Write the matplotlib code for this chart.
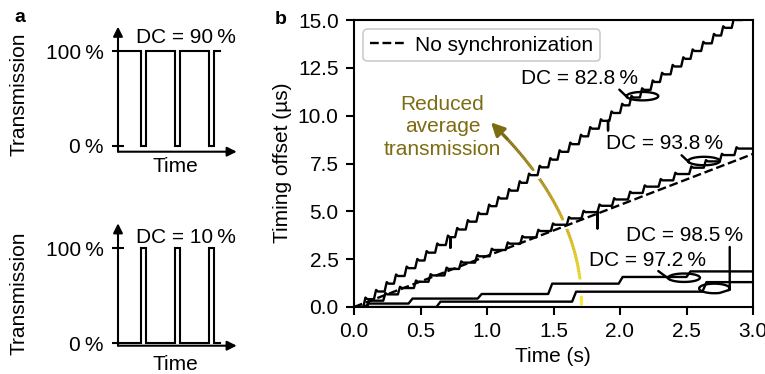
import numpy as np
import matplotlib
matplotlib.use('Agg')
import matplotlib.pyplot as plt
from matplotlib.collections import LineCollection
from matplotlib.colors import LinearSegmentedColormap

plt.rcParams['font.family'] = ['Liberation Sans', 'DejaVu Sans']
plt.rcParams['font.size'] = 15
plt.rcParams['axes.linewidth'] = 1.5

W, H = 765.0, 374.0
TS = '\u2009'

# ---------------- data ----------------
# panel a: pulse edges (fraction of time axis)
wave_start, wave_end = 0.059, 0.859
pulse_on = [0.191, 0.479, 0.766]
pulse_off = [0.233, 0.522, 0.808]
duty_labels = ['DC = 90' + TS + '%', 'DC = 10' + TS + '%']

# panel b
dash_t = [0.0, 3.0]
dash_y = [0.0, 8.0]

steps_828_t = [0.07, 0.15, 0.23, 0.30, 0.38, 0.46, 0.53, 0.61, 0.69, 0.76,
               0.84, 0.92, 1.00, 1.07, 1.15, 1.23, 1.30, 1.38, 1.46, 1.53,
               1.61, 1.69, 1.76, 1.84, 1.92, 2.00, 2.07, 2.15, 2.23, 2.30,
               2.38, 2.46, 2.53, 2.61, 2.69, 2.76, 2.84, 2.92]
steps_828_y = [0.41, 0.81, 1.22, 1.62, 2.03, 2.43, 2.84, 3.24, 3.65, 4.05,
               4.46, 4.86, 5.27, 5.67, 6.08, 6.49, 6.89, 7.30, 7.70, 8.11,
               8.51, 8.92, 9.32, 9.73, 10.14, 10.54, 10.95, 11.35, 11.76, 12.16,
               12.57, 12.97, 13.38, 13.78, 14.19, 14.59, 15.00, 15.40]
glitch_828_t = [0.725, 1.91]
glitch_828_d = [0.55, 0.50]

steps_938_t = [0.10, 0.22, 0.33, 0.45, 0.56, 0.68, 0.79, 0.91, 1.02, 1.14,
               1.25, 1.37, 1.48, 1.60, 1.71, 1.83, 1.94, 2.06, 2.17, 2.29,
               2.40, 2.52, 2.63, 2.75, 2.86]
steps_938_y = [0.33, 0.66, 0.99, 1.32, 1.65, 1.99, 2.32, 2.65, 2.98, 3.31,
               3.64, 3.97, 4.30, 4.63, 4.96, 5.29, 5.62, 5.96, 6.29, 6.62,
               6.95, 7.28, 7.61, 7.94, 8.28]
glitch_938_t = [1.83]
glitch_938_d = [0.85]

steps_972_t = [0.08, 0.41, 0.93, 1.46, 1.99, 2.50]
steps_972_y = [0.18, 0.44, 0.68, 1.22, 1.57, 1.86]

steps_985_t = [0.62, 1.64, 2.62]
steps_985_y = [0.28, 0.80, 1.30]

curve_labels = ['DC = 82.8' + TS + '%', 'DC = 93.8' + TS + '%',
                'DC = 97.2' + TS + '%', 'DC = 98.5' + TS + '%']

OLIVE = '#7d6c12'
LW = 1.7


def px(x, y):
    return x / W, 1 - y / H


def stair(ts, ys, t_end, rise, over=0.0, relax=0.015, glitch_t=(), glitch_d=()):
    """Staircase through the read step times/levels with a small overshoot
    after each rise that relaxes back quickly."""
    x, y = [0.0], [0.0]
    prev = 0.0
    for t, l in zip(ts, ys):
        h = l - prev
        x += [t, t + rise]
        y += [prev, l + over * h]
        if over:
            x.append(t + rise + relax)
            y.append(l)
        prev = l
    x.append(t_end)
    y.append(prev)
    for tg, d in zip(glitch_t, glitch_d):
        i = int(np.searchsorted(x, tg))
        lv = float(np.interp(tg, x, y))
        x[i:i] = [tg, tg, tg]
        y[i:i] = [lv, lv - d, lv]
    return x, y


fig = plt.figure(figsize=(W / 100, H / 100), dpi=100)

# ---------------- panel a ----------------
def panel_a(rect, ylim, high_base, label, label_y, time_y, trans_y):
    ax = fig.add_axes(rect)
    ax.set_xlim(0, 1)
    ax.set_ylim(*ylim)
    for s in ax.spines.values():
        s.set_visible(False)
    ax.set_xticks([])
    ax.set_yticks([0, 1])
    ax.set_yticklabels(['0' + TS + '%', '100' + TS + '%'])
    ax.tick_params(axis='y', direction='inout', length=9, width=1.5, pad=6)
    ax.annotate('', xy=(1.0, 0), xytext=(0, 0), xycoords='axes fraction',
                arrowprops=dict(arrowstyle='-|>', color='k', lw=1.5,
                                mutation_scale=14, shrinkA=0, shrinkB=0))
    ax.annotate('', xy=(0, 1.0), xytext=(0, 0), xycoords='axes fraction',
                arrowprops=dict(arrowstyle='-|>', color='k', lw=1.5,
                                mutation_scale=14, shrinkA=0, shrinkB=0))
    lo = 1 - high_base
    xs, ys = [wave_start], [high_base]
    for a, b in zip(pulse_on, pulse_off):
        xs += [a, a, b, b]
        ys += [high_base, lo, lo, high_base]
    xs.append(wave_end)
    ys.append(high_base)
    ax.plot(xs, ys, color='k', lw=1.5, solid_joinstyle='miter')
    fig.text(*px(186, label_y), label, ha='center', va='center')
    fig.text(*px(175, time_y), 'Time', ha='center', va='center')
    fig.text(*px(19, trans_y), 'Transmission', ha='center', va='center',
             rotation=90)
    return ax


r = lambda l, t, r_, b: [l / W, 1 - b / H, (r_ - l) / W, (b - t) / H]
panel_a(r(118, 26.7, 236.7, 151.7), (-0.063, 1.257), 1, duty_labels[0],
        37.5, 167, 94)
panel_a(r(118, 223.3, 236.7, 345.7), (-0.025, 1.263), 0, duty_labels[1],
        237.5, 364, 293)

fig.text(*px(20, 17), 'a', ha='center', va='center', fontweight='bold',
         fontsize=14)
fig.text(*px(281, 20), 'b', ha='center', va='center', fontweight='bold',
         fontsize=14)

# ---------------- panel b ----------------
ax = fig.add_axes(r(354, 20, 753, 307))
ax.set_xlim(0, 3)
ax.set_ylim(0, 15)
ax.set_xticks([0, 0.5, 1, 1.5, 2, 2.5, 3])
ax.set_xticklabels(['0.0', '0.5', '1.0', '1.5', '2.0', '2.5', '3.0'])
ax.set_yticks([0, 2.5, 5, 7.5, 10, 12.5, 15])
ax.set_yticklabels(['0.0', '2.5', '5.0', '7.5', '10.0', '12.5', '15.0'])
ax.tick_params(direction='out', length=6, width=1.5, pad=5)
fig.text(*px(553, 357), 'Time (s)', ha='center', va='center')
fig.text(*px(283, 163), 'Timing offset (\u00b5s)', ha='center', va='center',
         rotation=90)

curves = [
    stair(steps_828_t, steps_828_y, 3.0, 0.016, 0.2, 0.014, glitch_828_t, glitch_828_d),
    stair(steps_938_t, steps_938_y, 3.0, 0.016, 0.2, 0.014, glitch_938_t, glitch_938_d),
    stair(steps_972_t, steps_972_y, 3.0, 0.03),
    stair(steps_985_t, steps_985_y, 3.0, 0.03),
]
for cx, cy in curves:
    ax.plot(cx, cy, color='white', lw=6, zorder=2.5, solid_joinstyle='round')
for cx, cy in curves:
    ax.plot(cx, cy, color='k', lw=LW, zorder=3, solid_joinstyle='round',
            solid_capstyle='round')
ax.plot(dash_t, dash_y, color='k', lw=LW, ls='--', zorder=3.2,
        label='No synchronization')

leg = ax.legend(loc='upper left', handlelength=1.7, handletextpad=0.5,
                borderpad=0.3, borderaxespad=0.45, fancybox=True,
                framealpha=1, edgecolor='#cccccc')
leg.get_frame().set_linewidth(1.2)

# gradient arrow "reduced average transmission"
P0 = np.array([1.71, 0.08])
P1 = np.array([1.72, 5.0])
P2 = np.array([1.03, 9.65])
s = np.linspace(0, 1, 120)[:, None]
B = (1 - s) ** 2 * P0 + 2 * (1 - s) * s * P1 + s ** 2 * P2
segs = np.stack([B[:-1], B[1:]], axis=1)
cmap = LinearSegmentedColormap.from_list('y', ['#f9e720', '#c9a716', OLIVE])
lc = LineCollection(segs[:-8], colors=cmap(np.linspace(0, 1, len(segs) - 8)),
                    lw=2.2, zorder=2, capstyle='butt')
ax.add_collection(lc)
ax.annotate('', xy=tuple(P2), xytext=tuple(B[-12]),
            arrowprops=dict(arrowstyle='-|>', color=OLIVE, lw=2.2,
                            mutation_scale=20, shrinkA=0, shrinkB=0),
            zorder=2)
ax.text(0.665, 9.41, 'Reduced\naverage\ntransmission', color=OLIVE,
        ha='center', va='center', linespacing=1.25)

# labels with curly leaders
ax.text(1.697, 11.94, curve_labels[0], ha='center', va='center', zorder=4)
ax.text(2.338, 8.54, curve_labels[1], ha='center', va='center', zorder=4)
ax.text(2.210, 2.44, curve_labels[2], ha='center', va='center', zorder=4)
ax.text(2.488, 3.75, curve_labels[3], ha='center', va='center', zorder=4)


def curl(start, center, rx, ry, th0, th1, pre=None):
    th = np.radians(np.linspace(th0, th1, 80))
    ex = center[0] + rx * np.cos(th)
    ey = center[1] + ry * np.sin(th)
    xs = ([] if pre is None else [pre[0]]) + [start[0]] + list(ex)
    ys = ([] if pre is None else [pre[1]]) + [start[1]] + list(ey)
    ax.plot(xs, ys, color='k', lw=LW, zorder=4, solid_capstyle='round')


curl((1.995, 11.36), (2.169, 11.02), 0.119, 0.22, 200, 560)
curl((2.463, 7.93), (2.632, 7.63), 0.119, 0.22, 200, 560)
curl((2.288, 1.88), (2.482, 1.53), 0.119, 0.22, 200, 560)
curl((2.825, 0.90), (2.71, 0.97), 0.115, 0.25, 290, -20, pre=(2.825, 3.14))

fig.savefig('out.png', dpi=100)
